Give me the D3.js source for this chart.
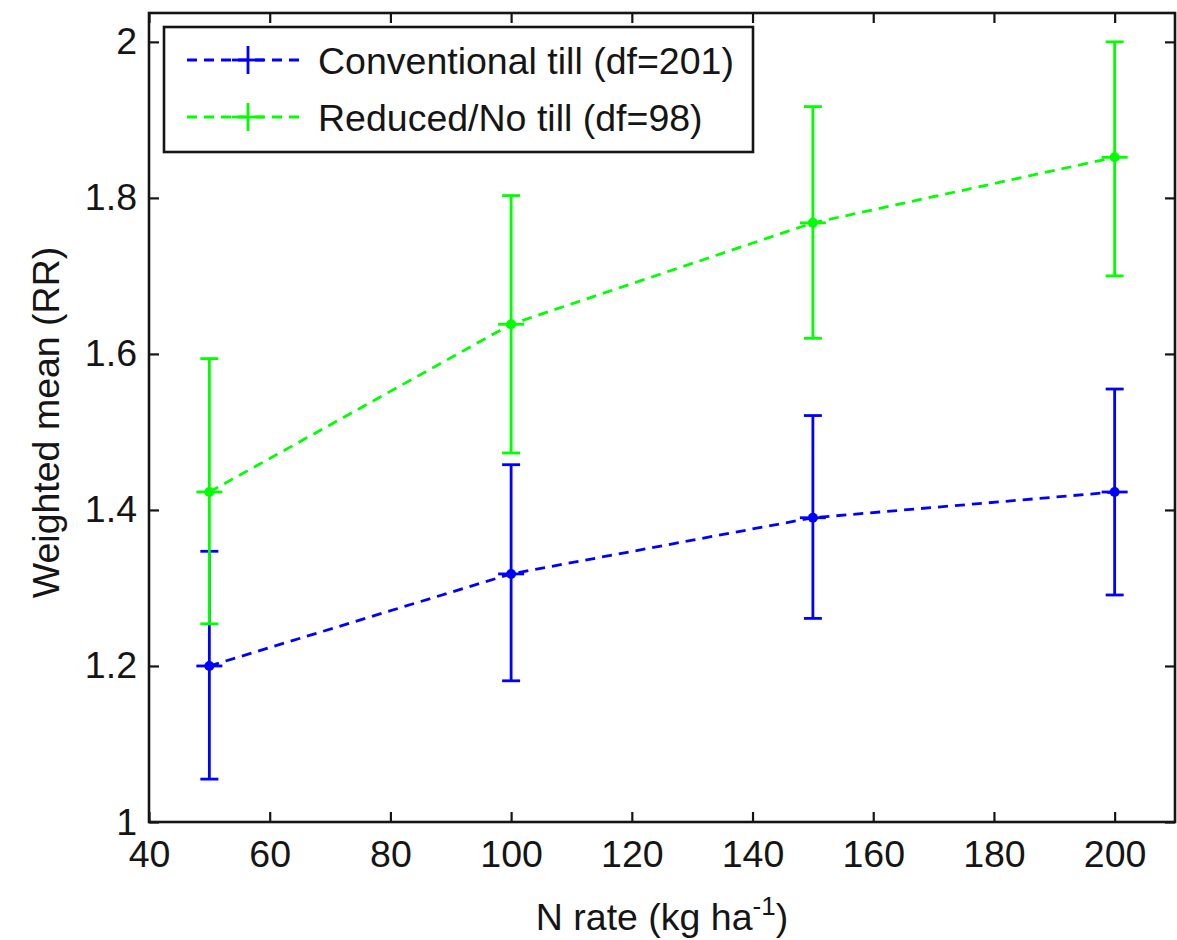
<!DOCTYPE html>
<html>
<head>
<meta charset="utf-8">
<script src="https://cdn.jsdelivr.net/npm/d3@7"></script>
<style>
  html, body { margin: 0; padding: 0; background: #fff; }
  svg { display: block; font-family: "Liberation Sans", Arial, sans-serif; }
</style>
</head>
<body>
<svg id="chart" width="1177" height="940"></svg>
<script>
// N application rates (kg ha-1)
const nRates = [50, 100, 150, 200];

// Weighted mean response ratio and error bar limits per tillage system
const convMean  = [1.200, 1.318, 1.390, 1.423];
const convLower = [1.055, 1.181, 1.261, 1.291];
const convUpper = [1.347, 1.458, 1.521, 1.555];

const redMean  = [1.423, 1.638, 1.768, 1.852];
const redLower = [1.254, 1.473, 1.620, 1.700];
const redUpper = [1.594, 1.803, 1.917, 2.000];

const seriesNames  = ["Conventional till (df=201)", "Reduced/No till (df=98)"];
const seriesColors = ["#0000ff", "#00ff00"];

const xTicks = [40, 60, 80, 100, 120, 140, 160, 180, 200];
const yTicks = [1, 1.2, 1.4, 1.6, 1.8, 2];

const series = [
  { name: seriesNames[0], color: seriesColors[0], mean: convMean, lo: convLower, hi: convUpper },
  { name: seriesNames[1], color: seriesColors[1], mean: redMean,  lo: redLower,  hi: redUpper }
];

(function draw() {
  const svg = d3.select("#chart");
  const pLeft = 149, pRight = 1175, pTop = 13, pBottom = 822;
  const fontSize = 37.5;
  const ink = "#151515";
  const sw = 2.8;

  const x = d3.scaleLinear().domain([40, 210]).range([pLeft, pRight]);
  const y = d3.scaleLinear().domain([1, 2.037]).range([pBottom, pTop]);

  // Axes with inward ticks on all four sides
  const tick = 10;
  const fmt = v => String(+v.toFixed(1));

  const gB = svg.append("g").attr("transform", `translate(0,${pBottom})`)
    .call(d3.axisBottom(x).tickValues(xTicks).tickSizeInner(-tick).tickSizeOuter(0).tickPadding(18).tickFormat(fmt));
  const gT = svg.append("g").attr("transform", `translate(0,${pTop})`)
    .call(d3.axisTop(x).tickValues(xTicks).tickSizeInner(-tick).tickSizeOuter(0).tickFormat(""));
  const gL = svg.append("g").attr("transform", `translate(${pLeft},0)`)
    .call(d3.axisLeft(y).tickValues(yTicks).tickSizeInner(-tick).tickSizeOuter(0).tickPadding(12).tickFormat(fmt));
  const gR = svg.append("g").attr("transform", `translate(${pRight},0)`)
    .call(d3.axisRight(y).tickValues(yTicks).tickSizeInner(-tick).tickSizeOuter(0).tickFormat(""));

  [gB, gT, gL, gR].forEach(g => {
    g.select(".domain").remove();
    g.selectAll(".tick line").attr("stroke", ink).attr("stroke-width", 2.2);
    g.selectAll("text").attr("fill", ink).style("font-size", fontSize + "px")
      .style("font-family", "'Liberation Sans', Arial, sans-serif");
  });

  // Box around the plot area
  svg.append("rect")
    .attr("x", pLeft).attr("y", pTop)
    .attr("width", pRight - pLeft).attr("height", pBottom - pTop)
    .attr("fill", "none").attr("stroke", ink).attr("stroke-width", 2.6);

  const plot = svg.append("g");

  const line = d3.line()
    .x((d, i) => x(nRates[i]))
    .y(d => y(d));

  series.forEach(s => {
    const g = plot.append("g");
    // dashed connecting line
    g.append("path")
      .attr("d", line(s.mean))
      .attr("fill", "none")
      .attr("stroke", s.color)
      .attr("stroke-width", sw)
      .attr("stroke-dasharray", "10,7");

    // error bars
    const capW = 9;
    nRates.forEach((n, i) => {
      const cx = x(n);
      g.append("line").attr("x1", cx).attr("x2", cx)
        .attr("y1", y(s.lo[i])).attr("y2", y(s.hi[i]))
        .attr("stroke", s.color).attr("stroke-width", sw);
      [s.lo[i], s.hi[i]].forEach(v => {
        g.append("line").attr("x1", cx - capW).attr("x2", cx + capW)
          .attr("y1", y(v)).attr("y2", y(v))
          .attr("stroke", s.color).attr("stroke-width", sw);
      });
      // '+' marker with a point at the mean
      g.append("line").attr("x1", cx - 13).attr("x2", cx + 13)
        .attr("y1", y(s.mean[i])).attr("y2", y(s.mean[i]))
        .attr("stroke", s.color).attr("stroke-width", sw);
      g.append("circle").attr("cx", cx).attr("cy", y(s.mean[i])).attr("r", 5)
        .attr("fill", s.color);
    });
  });

  // Legend
  const legend = svg.append("g");
  legend.append("rect")
    .attr("x", 164).attr("y", 27).attr("width", 589).attr("height", 125)
    .attr("fill", "#fff").attr("stroke", ink).attr("stroke-width", 2.6);

  series.forEach((s, i) => {
    const ly = 60 + i * 57;
    legend.append("line")
      .attr("x1", 187).attr("x2", 302).attr("y1", ly).attr("y2", ly)
      .attr("stroke", s.color).attr("stroke-width", sw).attr("stroke-dasharray", "10,7");
    legend.append("line")
      .attr("x1", 232).attr("x2", 264).attr("y1", ly).attr("y2", ly)
      .attr("stroke", s.color).attr("stroke-width", sw);
    legend.append("line")
      .attr("x1", 248).attr("x2", 248).attr("y1", ly - 14).attr("y2", ly + 14)
      .attr("stroke", s.color).attr("stroke-width", sw);
    legend.append("text")
      .attr("x", 318).attr("y", ly + 14)
      .attr("fill", ink)
      .style("font-size", fontSize + "px")
      .text(s.name);
  });

  // Axis titles
  const xt = svg.append("text")
    .attr("x", (pLeft + pRight) / 2).attr("y", 930)
    .attr("text-anchor", "middle").attr("fill", ink)
    .style("font-size", fontSize + "px");
  xt.append("tspan").text("N rate (kg ha");
  xt.append("tspan").attr("dy", -15).style("font-size", "26px").text("-1");
  xt.append("tspan").attr("dy", 15).text(")");

  svg.append("text")
    .attr("transform", `translate(59,${(pTop + pBottom) / 2 + 5}) rotate(-90)`)
    .attr("text-anchor", "middle").attr("fill", ink)
    .style("font-size", fontSize + "px")
    .text("Weighted mean (RR)");
})();
</script>
</body>
</html>
